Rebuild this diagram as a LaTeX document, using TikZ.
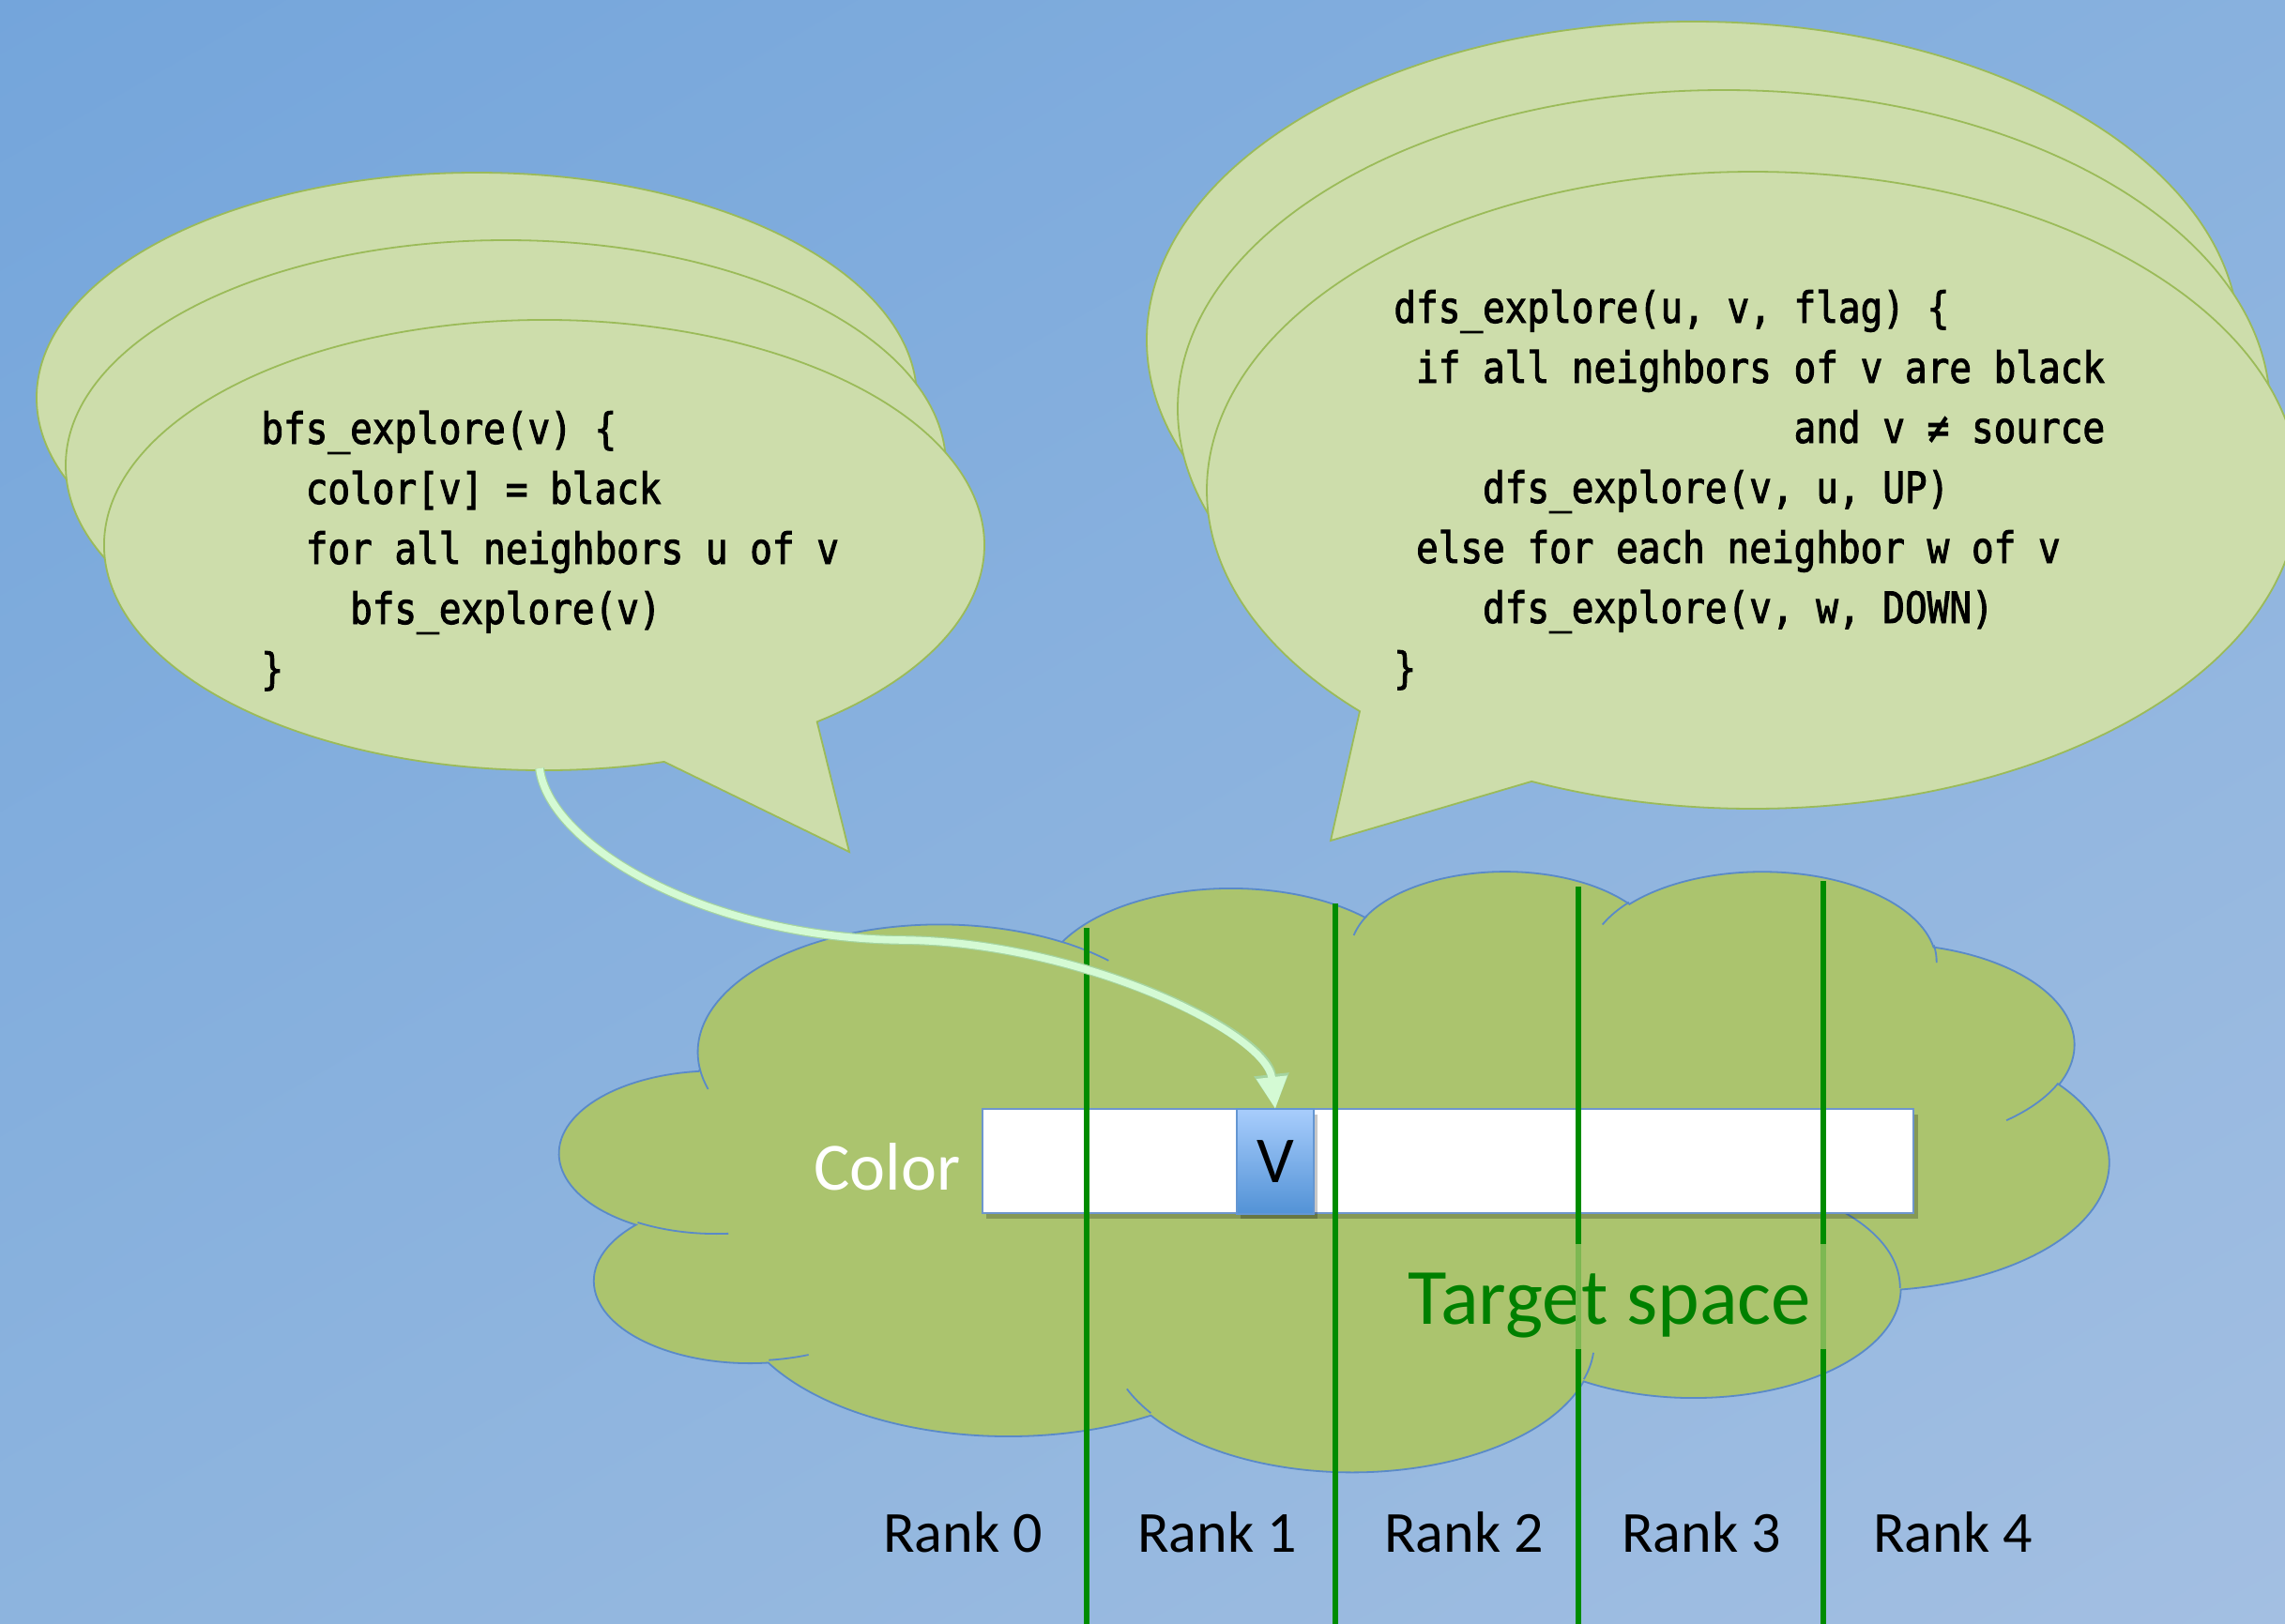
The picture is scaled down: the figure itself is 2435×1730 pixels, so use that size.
\documentclass[tikz,border=0pt]{standalone}
\usepackage{fontspec}
\usetikzlibrary{arrows.meta,shadings}
\newfontfamily\calfont{Carlito}
\newfontfamily\codefont{DejaVu Sans Mono}[FakeStretch=0.855, FakeBold=2]
\definecolor{bgUL}{RGB}{116,165,219}
\definecolor{bgUR}{RGB}{136,177,222}
\definecolor{bgLL}{RGB}{141,180,222}
\definecolor{bgLR}{RGB}{163,191,226}
\definecolor{bubfill}{RGB}{205,221,171}
\definecolor{bubedge}{RGB}{155,187,89}
\definecolor{cloudfill}{RGB}{171,196,110}
\definecolor{cloudedge}{RGB}{90,138,200}
\definecolor{rankgreen}{RGB}{0,140,0}
\definecolor{rankfade}{RGB}{125,184,82}
\definecolor{targetgreen}{RGB}{0,128,0}
\definecolor{mint}{RGB}{212,250,212}
\definecolor{mintedge}{RGB}{165,212,160}
\definecolor{baredge}{RGB}{110,150,205}
\definecolor{vtop}{RGB}{168,205,252}
\definecolor{vbot}{RGB}{82,146,214}
\definecolor{vedge}{RGB}{100,150,210}

\newcommand\cldcalc[4]{%
  \pgfmathsetmacro\cldtmpa{atan2((#1)*sin(#3),(#2)*cos(#3))}%
  \pgfmathsetmacro\cldtmpb{atan2((#1)*sin((#3)+(#4)),(#2)*cos((#3)+(#4)))}%
  \pgfmathsetmacro\cldtmpb{\cldtmpa+mod(\cldtmpb-\cldtmpa+720,360)}%
  \global\let\cldta\cldtmpa
  \global\let\cldtb\cldtmpb}
\newcommand\cldarc[4]{\pgfextra{\cldcalc{#1}{#2}{#3}{#4}} arc[start angle=\cldta, end angle=\cldtb, x radius=#1, y radius=#2]}

\tikzset{
  bubble/.style={fill=bubfill, draw=bubedge, line width=0.9pt},
  codetext/.style={font=\codefont\fontsize{23}{32}\selectfont, inner sep=0pt, anchor=base west, text=black},
  cloudshape/.style={fill=cloudfill, draw=cloudedge, line width=0.9pt},
  cloudline/.style={draw=cloudedge, line width=0.9pt},
  colorbar/.style={rectangle, fill=white, draw=baredge, line width=0.9pt, minimum width=496pt, minimum height=55.5pt, inner sep=0pt, outer sep=0pt},
  vcellstyle/.style={rectangle, top color=vtop, bottom color=vbot, draw=vedge, line width=0.8pt, minimum width=41pt, minimum height=56pt, inner sep=0pt, outer sep=0pt, font=\calfont\fontsize{35}{42}\selectfont, text=black},
  rankline/.style={draw=rankgreen, line width=2.6pt},
  rankfadeline/.style={draw=rankfade, line width=2.6pt},
  ranklbl/.style={font=\calfont\fontsize{31}{37}\selectfont, text=black, inner sep=0pt, anchor=base},
  flowshadow/.style={draw=mintedge, line width=5pt, -{Triangle[length=18.5pt, width=17.5pt, fill=mintedge]}},
  flowarrow/.style={draw=mint, line width=3.8pt, -{Triangle[length=17pt, width=15.5pt, fill=mint]}},
}

\begin{document}
\begin{tikzpicture}[x=0.5pt, y=-0.5pt]
\useasboundingbox (0,0) rectangle (2435,1730);
\clip (0,0) rectangle (2435,1730);
\shade[upper left=bgUL, upper right=bgUR, lower left=bgLL, lower right=bgLR] (0,0) rectangle (2435,1730);

% ---- left speech bubble stack
\path[bubble] (508,424) ellipse [x radius=469, y radius=240];
\path[bubble] (539,496) ellipse [x radius=469, y radius=240];
\path[bubble] ([shift={(74.2:469 and 240)}]580,581) arc[start angle=74.2, end angle=411.7, x radius=469, y radius=240] -- (905,908) -- cycle;
\node[codetext] (bfscode) at (278,473) {\begin{tabular}[t]{@{}l@{}}
bfs\_explore(v) \{\\
\hphantom{xx}color[v] = black\\
\hphantom{xx}for all neighbors u of v\\
\hphantom{xxxx}bfs\_explore(v)\\
\}
\end{tabular}};
\coordinate (bfsout) at (575,819);

% ---- right speech bubble stack
\path[bubble] (1804,362.5) ellipse [x radius=582, y radius=339.5];
\path[bubble] (1837,435.5) ellipse [x radius=582, y radius=339.5];
\path[bubble] ([shift={(136.05:582 and 339.5)}]1868,522.5) arc[start angle=136.05, end angle=473.9, x radius=582, y radius=339.5] -- (1418,896) -- cycle;
\node[codetext] (dfscode) at (1485,344) {\begin{tabular}[t]{@{}l@{}}
dfs\_explore(u, v, flag) \{\\
\hphantom{x}if all neighbors of v are black\\
\hphantom{xxxxxxxxxxxxxxxxxx}and v ≠ source\\
\hphantom{xxxx}dfs\_explore(v, u, UP)\\
\hphantom{x}else for each neighbor w of v\\
\hphantom{xxxx}dfs\_explore(v, w, DOWN)\\
\}
\end{tabular}};

% ---- cloud (target space)
\begin{scope}[shift={(597,927)}, xscale=3.8194, yscale=1.4815]
\path[cloudshape] (39.00,143.70)
  \cldarc{67.53}{91.90}{-190.4875}{123.7805}
  \cldarc{53.33}{72.67}{-144.1024}{89.9452}
  \cldarc{43.65}{59.45}{-145.8079}{99.7230}
  \cldarc{48.57}{65.95}{-130.9861}{117.2417}
  \cldarc{53.33}{72.73}{-78.7089}{109.0269}
  \cldarc{67.75}{92.20}{-46.2673}{130.2690}
  \cldarc{57.85}{78.67}{0.6250}{114.0333}
  \cldarc{67.52}{92.15}{22.4516}{115.1726}
  \cldarc{77.20}{105.43}{66.2426}{75.7110}
  \cldarc{43.60}{59.18}{-274.9421}{146.7356}
  \cldarc{43.45}{59.45}{-246.8285}{152.5179}
  -- cycle;
\path[cloudline]
  (46.93,261.77) \cldarc{43.45}{59.45}{86.7420}{26.4295}
  (69.28,348.99) \cldarc{43.60}{59.18}{73.6105}{11.4475}
  (164.78,390.90) \cldarc{67.52}{92.15}{137.6242}{14.0811}
  (288.27,347.51) \cldarc{67.52}{92.15}{6.4533}{15.9984}
  (341.29,229.54) \cldarc{57.85}{78.67}{-70.2924}{70.9174}
  (417.98,153.54) \cldarc{53.33}{72.73}{30.3180}{27.7515}
  (383.24,54.26) \cldarc{48.57}{65.95}{-13.7443}{14.8589}
  (290.78,39.52) \cldarc{48.57}{65.95}{-149.1815}{18.1954}
  (221.41,47.20) \cldarc{43.65}{59.45}{-163.4943}{17.6864}
  (140.00,51.92) \cldarc{67.53}{91.90}{-66.7070}{12.3194}
  (41.27,157.89) \cldarc{67.53}{91.90}{157.6544}{11.8582};
\end{scope}

% ---- colour array
\fill[black, opacity=.22] (1051,1188) rectangle (2044,1299);
\node[colorbar] (colorbar) at (1543,1237.5) {};
\fill[black, opacity=.22] (1322,1188) rectangle (1404,1299);
\node[vcellstyle] (vcell) at (1359,1238) {V};
\node[font=\calfont\fontsize{36}{43}\selectfont, text=white, inner sep=0pt, anchor=base west] (colorlbl) at (867,1268) {Color};
\node[font=\calfont\fontsize{42.5}{50}\selectfont, text=targetgreen, inner sep=0pt, anchor=base west] (target) at (1500,1411) {Target space};

% ---- rank boundaries
\draw[rankline] (1158,989) -- (1158,1735);
\draw[rankline] (1423,963) -- (1423,1735);
\draw[rankline] (1682,945) -- (1682,1326);
\draw[rankfadeline] (1682,1326) -- (1682,1438);
\draw[rankline] (1682,1438) -- (1682,1735);
\draw[rankline] (1943,939) -- (1943,1326);
\draw[rankfadeline] (1943,1326) -- (1943,1438);
\draw[rankline] (1943,1438) -- (1943,1735);

% ---- connector
\draw[flowshadow] (bfsout) .. controls (585,900) and (750,1000) .. (963,1002) .. controls (1150,1004) and (1350,1100) .. (vcell.north);
\draw[flowarrow] (bfsout) .. controls (585,900) and (750,1000) .. (963,1002) .. controls (1150,1004) and (1350,1100) .. (vcell.north);

% ---- rank labels
\node[ranklbl] (rank0) at (1026,1654) {Rank 0};
\node[ranklbl] (rank1) at (1297,1654) {Rank 1};
\node[ranklbl] (rank2) at (1560,1654) {Rank 2};
\node[ranklbl] (rank3) at (1813,1654) {Rank 3};
\node[ranklbl] (rank4) at (2081,1654) {Rank 4};
\end{tikzpicture}
\end{document}
